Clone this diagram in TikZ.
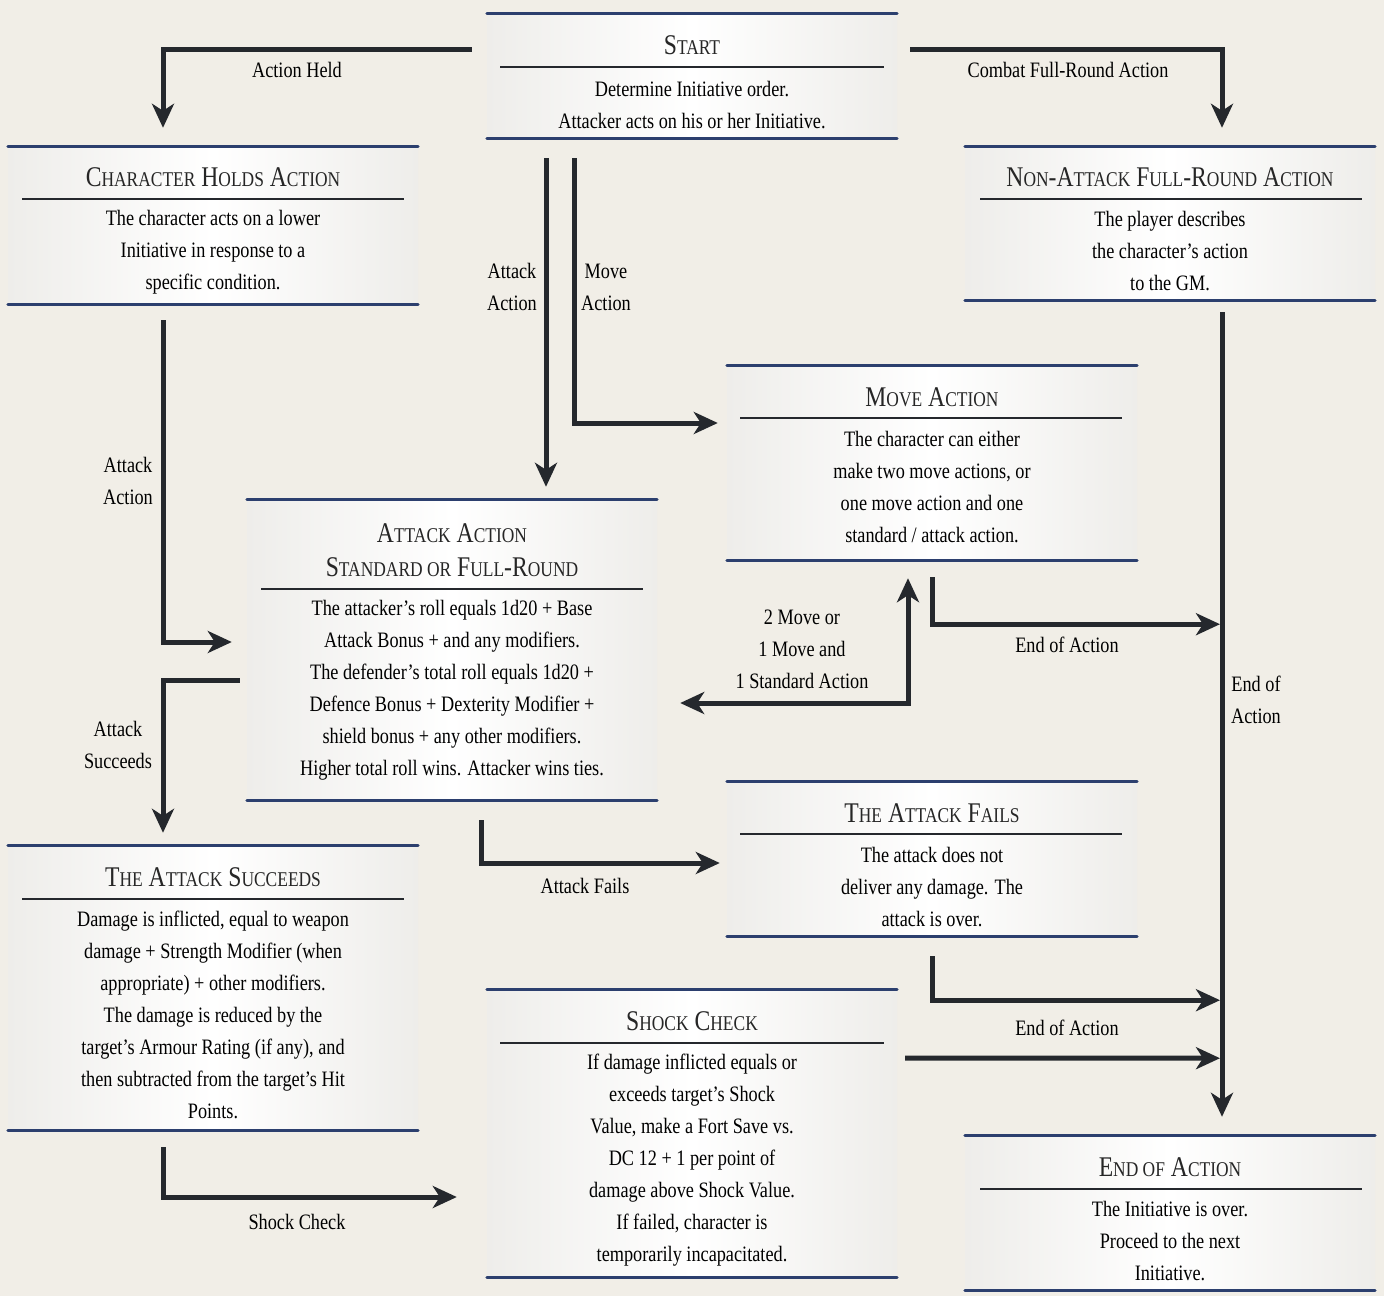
\documentclass[tikz,border=0pt]{standalone}
\usepackage{fontspec}
\setmainfont{Liberation Serif}[FakeStretch=0.83]
\usetikzlibrary{arrows.meta}

\definecolor{paper}{HTML}{F1EEE7}
\definecolor{inkblue}{HTML}{2C3F6E}
\definecolor{ink}{HTML}{25282D}
\definecolor{boxedge}{HTML}{EEEDEA}

\newcommand{\smc}[1]{{\fontsize{21}{34}\selectfont #1}}

\tikzset{
  band/.style={inner sep=0pt, minimum width=410pt, left color=boxedge, right color=boxedge, middle color=white},
  blueline/.style={inkblue, line width=3pt, line cap=round},
  rule/.style={ink, line width=2.2pt},
  title/.style={inner sep=0pt, font=\fontsize{28.5}{34}\selectfont, align=center, text=black!85},
  body/.style={inner sep=0pt, font=\fontsize{22}{32}\selectfont, align=center, text=black},
  lbl/.style={inner sep=0pt, font=\fontsize{22}{32}\selectfont, align=center, text=black},
  conn/.style={ink, line width=5pt, -{Stealth[length=24pt,width=22pt,inset=7pt]}},
  connboth/.style={ink, line width=5pt, {Stealth[length=24pt,width=22pt,inset=7pt]}-{Stealth[length=24pt,width=22pt,inset=7pt]}}
}

\begin{document}
\begin{tikzpicture}[x=1pt, y=1pt]
  \useasboundingbox (0,0) rectangle (1384,-1296);
  \fill[paper] (0,0) rectangle (1384,-1296);

  % boxes
  \node[band, minimum height=124pt] (start) at (692,-76) {};
  \node[band, minimum height=157pt] (hold) at (213,-225.5) {};
  \node[band, minimum height=153pt] (fullround) at (1170,-223.5) {};
  \node[band, minimum height=194pt] (move) at (932,-463) {};
  \node[band, minimum height=300pt] (attack) at (452,-650) {};
  \node[band, minimum height=154pt] (fails) at (932,-859) {};
  \node[band, minimum height=284pt] (succeeds) at (213,-988) {};
  \node[band, minimum height=287pt] (shock) at (692,-1133.5) {};
  \node[band, minimum height=154pt] (endact) at (1170,-1213) {};

  \foreach \b in {start,hold,fullround,move,attack,fails,succeeds,shock,endact} {
    \draw[blueline] (\b.north west) -- (\b.north east);
    \draw[blueline] (\b.south west) -- (\b.south east);
  }

  % start
  \node[title] (start-t) at (692,-45) {S\smc{TART}};
  \draw[rule] (500,-67) -- (884,-67);
  \node[body] (start-b) at (692,-105) {Determine Initiative order.\\Attacker acts on his or her Initiative.};

  % character holds action
  \node[title] (hold-t) at (213,-177) {C\smc{HARACTER} H\smc{OLDS} A\smc{CTION}};
  \draw[rule] (22,-199) -- (404,-199);
  \node[body] (hold-b) at (213,-252) {The character acts on a lower\\Initiative in response to a\\specific condition.};

  % non-attack full-round action
  \node[title] (fullround-t) at (1170,-177) {N\smc{ON}-A\smc{TTACK} F\smc{ULL}-R\smc{OUND} A\smc{CTION}};
  \draw[rule] (980,-199) -- (1362,-199);
  \node[body] (fullround-b) at (1170,-251) {The player describes\\the character's action\\to the GM.};

  % move action
  \node[title] (move-t) at (932,-397) {M\smc{OVE} A\smc{CTION}};
  \draw[rule] (740,-418) -- (1122,-418);
  \node[body] (move-b) at (932,-487) {The character can either\\make two move actions, or\\one move action and one\\standard / attack action.};

  % attack action
  \node[title] (attack-t) at (452,-550) {A\smc{TTACK} A\smc{CTION}\\S\smc{TANDARD OR} F\smc{ULL}-R\smc{OUND}};
  \draw[rule] (261,-589) -- (643,-589);
  \node[body] (attack-b) at (452,-690) {The attacker's roll equals 1d20 + Base\\Attack Bonus + and any modifiers.\\The defender's total roll equals 1d20 +\\Defence Bonus + Dexterity Modifier +\\shield bonus + any other modifiers.\\Higher total roll wins. Attacker wins ties.};

  % the attack fails
  \node[title] (fails-t) at (932,-813) {T\smc{HE} A\smc{TTACK} F\smc{AILS}};
  \draw[rule] (740,-834) -- (1122,-834);
  \node[body] (fails-b) at (932,-887) {The attack does not\\deliver any damage. The\\attack is over.};

  % the attack succeeds
  \node[title] (succeeds-t) at (213,-877) {T\smc{HE} A\smc{TTACK} S\smc{UCCEEDS}};
  \draw[rule] (22,-899) -- (404,-899);
  \node[body] (succeeds-b) at (213,-1015) {Damage is inflicted, equal to weapon\\damage + Strength Modifier (when\\appropriate) + other modifiers.\\The damage is reduced by the\\target's Armour Rating (if any), and\\then subtracted from the target's Hit\\Points.};

  % shock check
  \node[title] (shock-t) at (692,-1021) {S\smc{HOCK} C\smc{HECK}};
  \draw[rule] (500,-1043) -- (884,-1043);
  \node[body] (shock-b) at (692,-1160) {If damage inflicted equals or\\exceeds target's Shock\\Value, make a Fort Save vs.\\DC 12 + 1 per point of\\damage above Shock Value.\\If failed, character is\\temporarily incapacitated.};

  % end of action
  \node[title] (endact-t) at (1170,-1167) {E\smc{ND OF} A\smc{CTION}};
  \draw[rule] (980,-1189) -- (1362,-1189);
  \node[body] (endact-b) at (1170,-1241) {The Initiative is over.\\Proceed to the next\\Initiative.};

  % connectors
  \draw[conn] ([xshift=-15pt,yshift=-36pt]start.north west) -| ([xshift=-50pt,yshift=19pt]hold.north);
  \node[lbl] at (297,-70) {Action Held};

  \draw[conn] ([xshift=13pt,yshift=-36pt]start.north east) -| ([xshift=52pt,yshift=19pt]fullround.north);
  \node[lbl] at (1068,-70) {Combat Full-Round Action};

  \draw[conn] ([xshift=-146pt,yshift=-20pt]start.south) -- ([xshift=94pt,yshift=13pt]attack.north);
  \node[lbl] at (512,-287) {Attack\\Action};

  \draw[conn] ([xshift=-118pt,yshift=-20pt]start.south) |- ([xshift=-9pt,yshift=40pt]move.west);
  \node[lbl] at (606,-287) {Move\\Action};

  \draw[conn] ([xshift=-50pt,yshift=-16pt]hold.south) |- ([xshift=-15pt,yshift=8pt]attack.west);
  \node[lbl] at (128,-481) {Attack\\Action};

  \draw[conn] ([xshift=-7pt,yshift=-30pt]attack.west) -| ([xshift=-50pt,yshift=13pt]succeeds.north);
  \node[lbl] at (118,-745) {Attack\\Succeeds};

  \draw[connboth] ([xshift=-24pt,yshift=-18pt]move.south) |- ([xshift=23pt,yshift=-53pt]attack.east);
  \node[lbl] at (802,-649) {2 Move or\\1 Move and\\1 Standard Action};

  \draw[conn] ([yshift=-17pt]move.south) |- ([shift={(50pt,-324pt)}]fullround.south);
  \node[lbl] at (1067,-645) {End of Action};

  \draw[conn] ([xshift=52pt,yshift=-12pt]fullround.south) -- ([xshift=52pt,yshift=19pt]endact.north);
  \node[lbl] at (1256,-700) {End of\\Action};

  \draw[conn] ([xshift=29pt,yshift=-20pt]attack.south) |- ([xshift=-7pt,yshift=-4pt]fails.west);
  \node[lbl] at (585,-886) {Attack Fails};

  \draw[conn] ([yshift=-20pt]fails.south) |- ([shift={(50pt,-700pt)}]fullround.south);
  \node[lbl] at (1067,-1028) {End of Action};

  \draw[conn] ([xshift=8pt,yshift=75.5pt]shock.east) -- ([shift={(50pt,-758pt)}]fullround.south);

  \draw[conn] ([xshift=-50pt,yshift=-17pt]succeeds.south) |- ([xshift=-30pt,yshift=-63.5pt]shock.west);
  \node[lbl] at (297,-1222) {Shock Check};
\end{tikzpicture}
\end{document}
